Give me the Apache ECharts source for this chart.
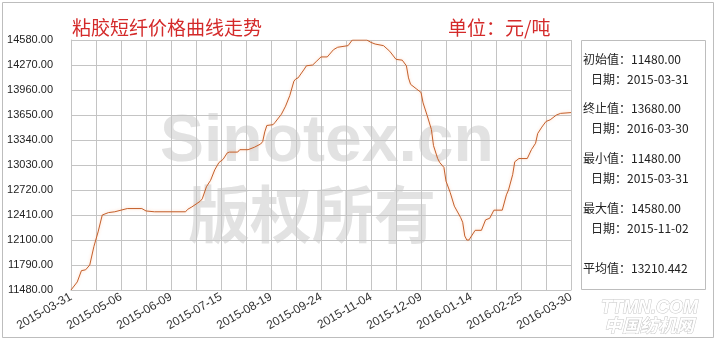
<!DOCTYPE html>
<html>
<head>
<meta charset="utf-8">
<script src="https://cdn.jsdelivr.net/npm/echarts@6/dist/echarts.min.js"></script>
<style>
html,body{margin:0;padding:0;background:#fff;}
#chart{width:720px;height:340px;}
</style>
</head>
<body>
<div id="chart"></div>
<script>
// x tick labels (every 24 trading days)
const tickLabels = ['2015-03-31','2015-05-06','2015-06-09','2015-07-15','2015-08-19','2015-09-24','2015-11-04','2015-12-09','2016-01-14','2016-02-25','2016-03-30'];
// trading-day index of each vertex of the price line
const dayIndex = [0,3,5,7,9,11,13,15,18,21,24,27,34,36,40,55,56,58,62,63,65,67,69,71,73,75,76,80,81,85,88,91,92,93,94,97,98,101,103,105,107,108,109,112,113,116,118,120,123,126,128,133,135,142,144,146,150,153,156,159,161,162,163,166,168,169,171,173,174,176,177,179,180,182,184,187,188,189,190,191,194,197,199,201,203,207,209,210,212,213,215,219,221,223,224,226,228,230,233,235,240];
// price (元/吨) at each vertex
const prices = [11480,11580,11720,11730,11790,12020,12200,12410,12440,12450,12470,12490,12490,12460,12450,12450,12480,12510,12580,12610,12760,12840,12970,13060,13100,13180,13190,13190,13220,13220,13250,13290,13320,13440,13520,13530,13560,13660,13760,13890,14070,14100,14110,14220,14260,14270,14320,14370,14370,14460,14490,14510,14580,14580,14550,14530,14510,14440,14340,14330,14260,14110,14030,13970,13930,13800,13640,13470,13270,13110,13060,13000,12830,12690,12520,12380,12320,12150,12100,12100,12220,12220,12350,12370,12470,12470,12660,12720,12910,13070,13110,13110,13220,13300,13420,13500,13570,13590,13650,13670,13680];
// y-axis range
const yMin = 11480, yMax = 14580, yStep = 310;
// stats box
const statNames = ['初始值','日期','终止值','日期','最小值','日期','最大值','日期','平均值'];
const statValues = ['11480.00','2015-03-31','13680.00','2016-03-30','11480.00','2015-03-31','14580.00','2015-11-02','13210.442'];
const statRowY = [59,79,108,128,158,178,208,228,268];

const chart = echarts.init(document.getElementById('chart'), null, {renderer:'canvas'});
const gridColor = '#c4c4c4';
const cjk = '"Noto Sans CJK SC", sans-serif';

const graphics = [
  {type:'rect', z:-20, shape:{x:2.5,y:2.5,width:711,height:335}, style:{fill:'#fff',stroke:'#bdbdbd',lineWidth:1}},
  {type:'text', z:-10, x:160, y:143, style:{text:'Sinotex.cn', font:'bold 66px "Liberation Sans", Arial, sans-serif', fill:'#e2e2e2', verticalAlign:'middle', align:'left'}},
  {type:'text', z:-10, x:188, y:214, style:{text:'版权所有', font:'bold 62px ' + cjk, fill:'#e2e2e2', verticalAlign:'middle', align:'left'}},
  {type:'text', x:72, y:28, style:{text:'粘胶短纤价格曲线走势', font:'19px ' + cjk, fill:'#d42a2a', verticalAlign:'middle'}},
  {type:'text', x:448, y:28, style:{text:'单位：元/吨', font:'19px ' + cjk, fill:'#d42a2a', verticalAlign:'middle'}},
  {type:'rect', shape:{x:581.5,y:40.5,width:124,height:249}, style:{fill:'none',stroke:'#bdbdbd',lineWidth:1}},
  {type:'text', x:601, y:308, style:{text:'TTMN.COM', font:'italic bold 18px "Liberation Sans", Arial, sans-serif', fill:'#fff', stroke:'#c8c8c8', lineWidth:1, verticalAlign:'middle'}},
  {type:'text', x:604, y:325, style:{text:'中国纺机网', font:'italic bold 18px ' + cjk, fill:'#fff', stroke:'#c8c8c8', lineWidth:1, verticalAlign:'middle'}}
];
statNames.forEach((n,i)=>{
  const isDate = n === '日期';
  graphics.push({type:'text', x: isDate ? 591 : 583, y: statRowY[i], style:{text: n + '：' + statValues[i], font:'12px ' + cjk, fill:'#222', verticalAlign:'middle'}});
});

chart.setOption({
  animation:false,
  backgroundColor:'transparent',
  graphic: graphics,
  grid:{left:71, right:149, top:40, bottom:50, containLabel:false},
  xAxis:{
    type:'value', min:0, max:240, interval:12,
    axisLine:{show:true, lineStyle:{color:gridColor}},
    axisTick:{show:false},
    splitLine:{show:true, lineStyle:{color:gridColor, width:1}},
    axisLabel:{
      rotate:30, margin:6, fontSize:12, color:'#333', fontFamily:'"Liberation Sans", Arial, sans-serif',
      formatter: v => (v % 24 === 0 ? tickLabels[v/24] : '')
    }
  },
  yAxis:{
    type:'value', min:yMin, max:yMax, interval:yStep,
    axisLine:{show:true, lineStyle:{color:gridColor}},
    axisTick:{show:false},
    splitLine:{show:true, lineStyle:{color:gridColor, width:1}},
    axisLabel:{margin:18, fontSize:11, color:'#222', fontFamily:'"Liberation Sans", Arial, sans-serif',
      formatter: v => v.toFixed(2)}
  },
  series:[{
    type:'line', data: dayIndex.map((d,i)=>[d, prices[i]]),
    showSymbol:false, silent:true,
    lineStyle:{color:'#c4602c', width:1, shadowColor:'rgba(255,170,120,0.6)', shadowBlur:3}
  }]
});
</script>
</body>
</html>
